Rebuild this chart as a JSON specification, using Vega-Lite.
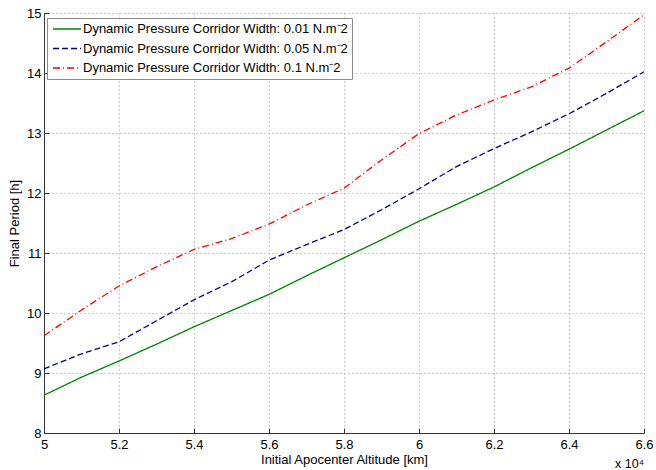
{
  "$schema": "https://vega.github.io/schema/vega-lite/v6.json",
  "width": 600,
  "height": 420,
  "autosize": {"type": "none"},
  "padding": {"left": 44, "top": 13, "right": 12, "bottom": 37},
  "background": "white",
  "config": {
    "font": "Liberation Sans",
    "view": {"stroke": null},
    "axis": {
      "domainColor": "#333333",
      "tickColor": "#333333",
      "tickSize": -5,
      "labelFontSize": 13,
      "labelColor": "black",
      "titleFontSize": 12.5,
      "titleFontWeight": "normal",
      "titleColor": "black",
      "gridColor": "#9a9a9a",
      "gridDash": [1, 3],
      "gridWidth": 1,
      "labelFlush": false,
      "labelOverlap": false,
      "labelBound": false
    },
    "legend": {
      "symbolType": "M-2.33,0H2.33",
      "symbolSize": 144,
      "symbolStrokeWidth": 1.3,
      "labelFontSize": 13,
      "labelColor": "black",
      "labelLimit": 400,
      "padding": 4,
      "rowPadding": 5.5,
      "strokeColor": "#8a8a8a",
      "fillColor": "white",
      "symbolOffset": 9,
      "labelOffset": 9
    }
  },
  "layer": [
    {
      "data": {
        "values": [
          {"alt": 50000, "period": 8.63, "series": "Dynamic Pressure Corridor Width: 0.01 N.m⁻2"},
          {"alt": 51000, "period": 8.93, "series": "Dynamic Pressure Corridor Width: 0.01 N.m⁻2"},
          {"alt": 52000, "period": 9.20, "series": "Dynamic Pressure Corridor Width: 0.01 N.m⁻2"},
          {"alt": 53000, "period": 9.48, "series": "Dynamic Pressure Corridor Width: 0.01 N.m⁻2"},
          {"alt": 54000, "period": 9.77, "series": "Dynamic Pressure Corridor Width: 0.01 N.m⁻2"},
          {"alt": 55000, "period": 10.04, "series": "Dynamic Pressure Corridor Width: 0.01 N.m⁻2"},
          {"alt": 56000, "period": 10.31, "series": "Dynamic Pressure Corridor Width: 0.01 N.m⁻2"},
          {"alt": 57000, "period": 10.62, "series": "Dynamic Pressure Corridor Width: 0.01 N.m⁻2"},
          {"alt": 58000, "period": 10.92, "series": "Dynamic Pressure Corridor Width: 0.01 N.m⁻2"},
          {"alt": 59000, "period": 11.22, "series": "Dynamic Pressure Corridor Width: 0.01 N.m⁻2"},
          {"alt": 60000, "period": 11.53, "series": "Dynamic Pressure Corridor Width: 0.01 N.m⁻2"},
          {"alt": 61000, "period": 11.81, "series": "Dynamic Pressure Corridor Width: 0.01 N.m⁻2"},
          {"alt": 62000, "period": 12.10, "series": "Dynamic Pressure Corridor Width: 0.01 N.m⁻2"},
          {"alt": 63000, "period": 12.42, "series": "Dynamic Pressure Corridor Width: 0.01 N.m⁻2"},
          {"alt": 64000, "period": 12.73, "series": "Dynamic Pressure Corridor Width: 0.01 N.m⁻2"},
          {"alt": 65000, "period": 13.05, "series": "Dynamic Pressure Corridor Width: 0.01 N.m⁻2"},
          {"alt": 66000, "period": 13.37, "series": "Dynamic Pressure Corridor Width: 0.01 N.m⁻2"},
          {"alt": 50000, "period": 9.07, "series": "Dynamic Pressure Corridor Width: 0.05 N.m⁻2"},
          {"alt": 51000, "period": 9.32, "series": "Dynamic Pressure Corridor Width: 0.05 N.m⁻2"},
          {"alt": 52000, "period": 9.52, "series": "Dynamic Pressure Corridor Width: 0.05 N.m⁻2"},
          {"alt": 53000, "period": 9.87, "series": "Dynamic Pressure Corridor Width: 0.05 N.m⁻2"},
          {"alt": 54000, "period": 10.22, "series": "Dynamic Pressure Corridor Width: 0.05 N.m⁻2"},
          {"alt": 55000, "period": 10.52, "series": "Dynamic Pressure Corridor Width: 0.05 N.m⁻2"},
          {"alt": 56000, "period": 10.88, "series": "Dynamic Pressure Corridor Width: 0.05 N.m⁻2"},
          {"alt": 57000, "period": 11.14, "series": "Dynamic Pressure Corridor Width: 0.05 N.m⁻2"},
          {"alt": 58000, "period": 11.39, "series": "Dynamic Pressure Corridor Width: 0.05 N.m⁻2"},
          {"alt": 59000, "period": 11.72, "series": "Dynamic Pressure Corridor Width: 0.05 N.m⁻2"},
          {"alt": 60000, "period": 12.07, "series": "Dynamic Pressure Corridor Width: 0.05 N.m⁻2"},
          {"alt": 61000, "period": 12.44, "series": "Dynamic Pressure Corridor Width: 0.05 N.m⁻2"},
          {"alt": 62000, "period": 12.74, "series": "Dynamic Pressure Corridor Width: 0.05 N.m⁻2"},
          {"alt": 63000, "period": 13.02, "series": "Dynamic Pressure Corridor Width: 0.05 N.m⁻2"},
          {"alt": 64000, "period": 13.32, "series": "Dynamic Pressure Corridor Width: 0.05 N.m⁻2"},
          {"alt": 65000, "period": 13.66, "series": "Dynamic Pressure Corridor Width: 0.05 N.m⁻2"},
          {"alt": 66000, "period": 14.02, "series": "Dynamic Pressure Corridor Width: 0.05 N.m⁻2"},
          {"alt": 50000, "period": 9.62, "series": "Dynamic Pressure Corridor Width: 0.1 N.m⁻2"},
          {"alt": 51000, "period": 10.05, "series": "Dynamic Pressure Corridor Width: 0.1 N.m⁻2"},
          {"alt": 52000, "period": 10.45, "series": "Dynamic Pressure Corridor Width: 0.1 N.m⁻2"},
          {"alt": 53000, "period": 10.77, "series": "Dynamic Pressure Corridor Width: 0.1 N.m⁻2"},
          {"alt": 54000, "period": 11.06, "series": "Dynamic Pressure Corridor Width: 0.1 N.m⁻2"},
          {"alt": 55000, "period": 11.24, "series": "Dynamic Pressure Corridor Width: 0.1 N.m⁻2"},
          {"alt": 56000, "period": 11.48, "series": "Dynamic Pressure Corridor Width: 0.1 N.m⁻2"},
          {"alt": 57000, "period": 11.80, "series": "Dynamic Pressure Corridor Width: 0.1 N.m⁻2"},
          {"alt": 58000, "period": 12.08, "series": "Dynamic Pressure Corridor Width: 0.1 N.m⁻2"},
          {"alt": 59000, "period": 12.55, "series": "Dynamic Pressure Corridor Width: 0.1 N.m⁻2"},
          {"alt": 60000, "period": 12.99, "series": "Dynamic Pressure Corridor Width: 0.1 N.m⁻2"},
          {"alt": 61000, "period": 13.30, "series": "Dynamic Pressure Corridor Width: 0.1 N.m⁻2"},
          {"alt": 62000, "period": 13.55, "series": "Dynamic Pressure Corridor Width: 0.1 N.m⁻2"},
          {"alt": 63000, "period": 13.77, "series": "Dynamic Pressure Corridor Width: 0.1 N.m⁻2"},
          {"alt": 64000, "period": 14.08, "series": "Dynamic Pressure Corridor Width: 0.1 N.m⁻2"},
          {"alt": 65000, "period": 14.52, "series": "Dynamic Pressure Corridor Width: 0.1 N.m⁻2"},
          {"alt": 66000, "period": 14.97, "series": "Dynamic Pressure Corridor Width: 0.1 N.m⁻2"}
        ]
      },
      "mark": {"type": "line", "strokeWidth": 1.3},
      "encoding": {
        "x": {
          "field": "alt",
          "type": "quantitative",
          "scale": {"domain": [50000, 66000], "nice": false},
          "axis": {
            "values": [50000, 52000, 54000, 56000, 58000, 60000, 62000, 64000, 66000],
            "labelExpr": "datum.value / 10000 + ''",
            "labelPadding": 10,
            "title": "Initial Apocenter Altitude [km]",
            "titleFontSize": 13,
            "titlePadding": 2
          }
        },
        "y": {
          "field": "period",
          "type": "quantitative",
          "scale": {"domain": [8, 15], "nice": false, "zero": false},
          "axis": {
            "values": [8, 9, 10, 11, 12, 13, 14, 15],
            "format": "d",
            "labelPadding": 8,
            "title": "Final Period [h]",
            "titleFontSize": 13,
            "titlePadding": 5
          }
        },
        "color": {
          "field": "series",
          "type": "nominal",
          "scale": {
            "domain": ["Dynamic Pressure Corridor Width: 0.01 N.m⁻2", "Dynamic Pressure Corridor Width: 0.05 N.m⁻2", "Dynamic Pressure Corridor Width: 0.1 N.m⁻2"],
            "range": ["#008000", "#000080", "#ff0000"]
          },
          "legend": {"title": null, "orient": "none", "legendX": 3, "legendY": 5}
        },
        "strokeDash": {
          "field": "series",
          "type": "nominal",
          "scale": {
            "domain": ["Dynamic Pressure Corridor Width: 0.01 N.m⁻2", "Dynamic Pressure Corridor Width: 0.05 N.m⁻2", "Dynamic Pressure Corridor Width: 0.1 N.m⁻2"],
            "range": [[1, 0], [6, 3], [7, 3, 1, 3]]
          },
          "legend": {"title": null, "orient": "none", "legendX": 3, "legendY": 5}
        }
      }
    },
    {
      "data": {"values": [{"note": "x 10⁴"}]},
      "mark": {"type": "text", "align": "right", "baseline": "middle", "dy": 31, "fontSize": 12.5, "color": "black"},
      "encoding": {
        "x": {"datum": 66000},
        "y": {"datum": 8},
        "text": {"field": "note"}
      }
    }
  ]
}
